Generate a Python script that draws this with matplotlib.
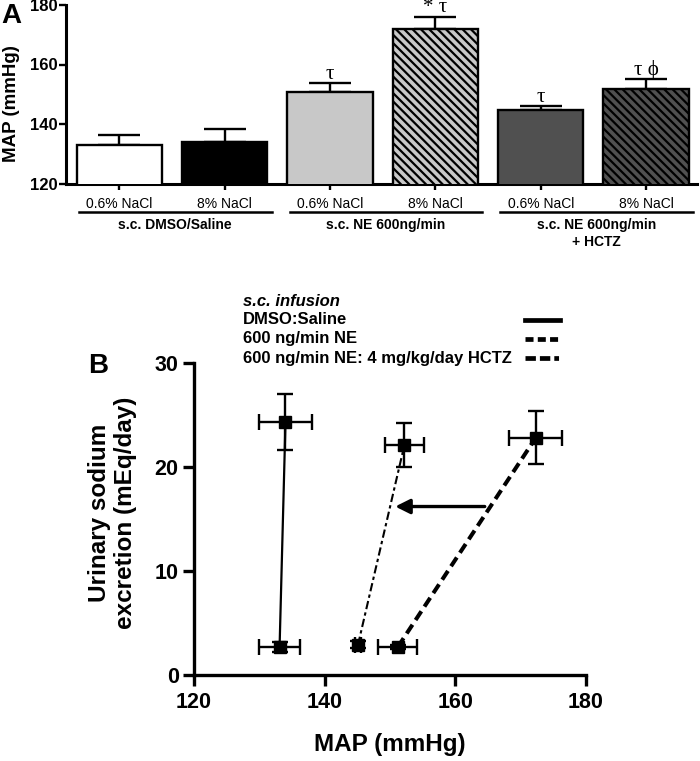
import matplotlib
matplotlib.use("Agg")
import matplotlib.pyplot as plt
import matplotlib.transforms as mtransforms
from matplotlib.lines import Line2D

plt.rcParams["font.family"] = ["Liberation Sans", "DejaVu Sans"]
plt.rcParams["hatch.linewidth"] = 1.6

# ---- panel A data ----
bar_labels = ["0.6% NaCl", "8% NaCl", "0.6% NaCl", "8% NaCl", "0.6% NaCl", "8% NaCl"]
bar_means = [133.0, 133.9, 150.7, 171.9, 144.8, 151.7]
bar_sem = [3.2, 4.3, 3.1, 4.2, 1.3, 3.5]
bar_colors = ["white", "black", "#c8c8c8", "#c8c8c8", "#505050", "#505050"]
bar_hatches = ["", "", "", "\\\\\\\\", "", "\\\\\\\\"]
bar_marks = ["", "", "τ", "* τ", "τ", "τ ϕ"]
group_labels = ["s.c. DMSO/Saline", "s.c. NE 600ng/min", "s.c. NE 600ng/min\n+ HCTZ"]

# ---- panel B data ----
map_dmso = [133.1, 134.0]
na_dmso = [2.7, 24.3]
map_dmso_err = [3.1, 4.1]
na_dmso_err = [0.5, 2.7]

map_ne = [151.2, 172.3]
na_ne = [2.7, 22.8]
map_ne_err = [3.0, 4.1]
na_ne_err = [0.2, 2.55]

map_hctz = [145.1, 152.2]
na_hctz = [2.9, 22.1]
map_hctz_err = [0.5, 3.0]
na_hctz_err = [0.35, 2.1]

legend_title = "s.c. infusion"
legend_labels = ["DMSO:Saline", "600 ng/min NE", "600 ng/min NE: 4 mg/kg/day HCTZ"]

W, H = 700, 761
fig = plt.figure(figsize=(W / 100, H / 100), dpi=100)

# ================= Panel A =================
axA = fig.add_axes([66 / W, 1 - 183.5 / H, 631 / W, 178.5 / H])
pos = list(range(len(bar_means)))
bw = 0.81
axA.bar(pos, bar_means, width=bw, bottom=0, color=bar_colors, edgecolor="black",
        linewidth=1.7, hatch=bar_hatches, zorder=3)
axA.errorbar(pos, bar_means, yerr=[[0] * len(bar_sem), bar_sem], fmt="none", ecolor="black",
             elinewidth=1.7, capsize=15, capthick=1.7, zorder=2)
for p, m, s, t in zip(pos, bar_means, bar_sem, bar_marks):
    if t:
        axA.annotate(t, (p, m + s), xytext=(0, 3), textcoords="offset points", ha="center",
                     va="baseline", fontsize=15, family=["Liberation Serif", "DejaVu Serif"])

axA.set_xlim(-0.508, 5.484)
axA.set_ylim(120, 180)
axA.set_yticks([120, 140, 160, 180])
axA.set_xticks(pos)
axA.set_xticklabels(bar_labels, fontsize=10)
for lab in axA.get_yticklabels():
    lab.set_fontweight("bold")
    lab.set_fontsize(12)
axA.tick_params(axis="y", length=5, width=1.7, pad=1)
axA.tick_params(axis="x", length=4, width=1.7, pad=6)
for side in ["top", "right"]:
    axA.spines[side].set_visible(False)
for side in ["left", "bottom"]:
    axA.spines[side].set_linewidth(2.2)
axA.set_ylabel("MAP (mmHg)", fontsize=13.5, fontweight="bold", va="center")
axA.yaxis.set_label_coords(-0.0856, 0.45)

trA = mtransforms.blended_transform_factory(axA.transData, axA.transAxes)
for g, lab in enumerate(group_labels):
    x0 = pos[2 * g] - bw / 2 + 0.02
    x1 = pos[2 * g + 1] + bw / 2 + 0.04
    axA.plot([x0, x1], [-0.16, -0.16], color="black", lw=1.8, transform=trA, clip_on=False)
    axA.text((x0 + x1) / 2, -0.195, lab, transform=trA, ha="center", va="top",
             fontsize=10, fontweight="bold", linespacing=1.25)

fig.text(1 / W, 1 - 3 / H, "A", fontsize=20, fontweight="bold", ha="left", va="top")

# ================= Panel B =================
axB = fig.add_axes([194 / W, 1 - 675 / H, 392 / W, 312 / H])
axB.plot(map_dmso, na_dmso, color="black", lw=1.6, zorder=2)
axB.plot(map_ne, na_ne, color="black", lw=2.9, dashes=(2.6, 1.4), zorder=2)
axB.plot(map_hctz, na_hctz, color="black", lw=1.5, dashes=(4.0, 1.6, 1.6, 1.6), zorder=2)
for xs, ys, xe, ye in [(map_dmso, na_dmso, map_dmso_err, na_dmso_err),
                       (map_ne, na_ne, map_ne_err, na_ne_err),
                       (map_hctz, na_hctz, map_hctz_err, na_hctz_err)]:
    axB.errorbar(xs, ys, xerr=xe, yerr=ye, fmt="s", color="black", ms=8.5,
                 elinewidth=1.7, capsize=5.5, capthick=1.7, linestyle="none", zorder=3)

axB.annotate("", xy=(map_hctz[1] - 1.4, 16.2), xytext=(map_ne[1] - 7.8, 16.2),
             arrowprops=dict(arrowstyle="-|>", lw=2.4, color="black", mutation_scale=22,
                             shrinkA=0, shrinkB=0))

axB.set_xlim(120, 180)
axB.set_ylim(0, 30)
axB.set_xticks([120, 140, 160, 180])
axB.set_yticks([0, 10, 20, 30])
for lab in axB.get_xticklabels() + axB.get_yticklabels():
    lab.set_fontweight("bold")
    lab.set_fontsize(15.5)
axB.tick_params(axis="both", length=8, width=2.4)
axB.tick_params(axis="y", pad=3)
axB.tick_params(axis="x", pad=4)
for side in ["top", "right"]:
    axB.spines[side].set_visible(False)
for side in ["left", "bottom"]:
    axB.spines[side].set_linewidth(2.4)
axB.set_ylabel("Urinary sodium\nexcretion (mEq/day)", fontsize=17.5, fontweight="bold",
               va="center", linespacing=1.2)
axB.yaxis.set_label_coords(-0.208, 0.521)
axB.set_xlabel("MAP (mmHg)", fontsize=17.5, fontweight="bold", va="center")
axB.xaxis.set_label_coords(0.5, -0.224)

fig.text(88 / W, 1 - 366 / H, "B", fontsize=20, fontweight="bold", ha="left", va="center")

# legend drawn by hand: text left, line samples right
fig.text(243 / W, 1 - 301 / H, legend_title, fontsize=12, fontweight="bold",
         style="italic", ha="left", va="center")
leg_y = [320, 339, 358]
leg_styles = [dict(lw=3.4), dict(lw=3.4, dashes=(1.7, 0.9)),
              dict(lw=3.4, dashes=(2.2, 0.85, 2.2, 0.85, 1.0, 0.85))]
for y, lab, st in zip(leg_y, legend_labels, leg_styles):
    fig.text(243 / W, 1 - y / H, lab, fontsize=12, fontweight="bold", ha="left", va="center")
    fig.add_artist(Line2D([525 / W, 560 / W], [1 - y / H, 1 - y / H], color="black",
                          transform=fig.transFigure, **st))

fig.savefig("out.png", dpi=100)
